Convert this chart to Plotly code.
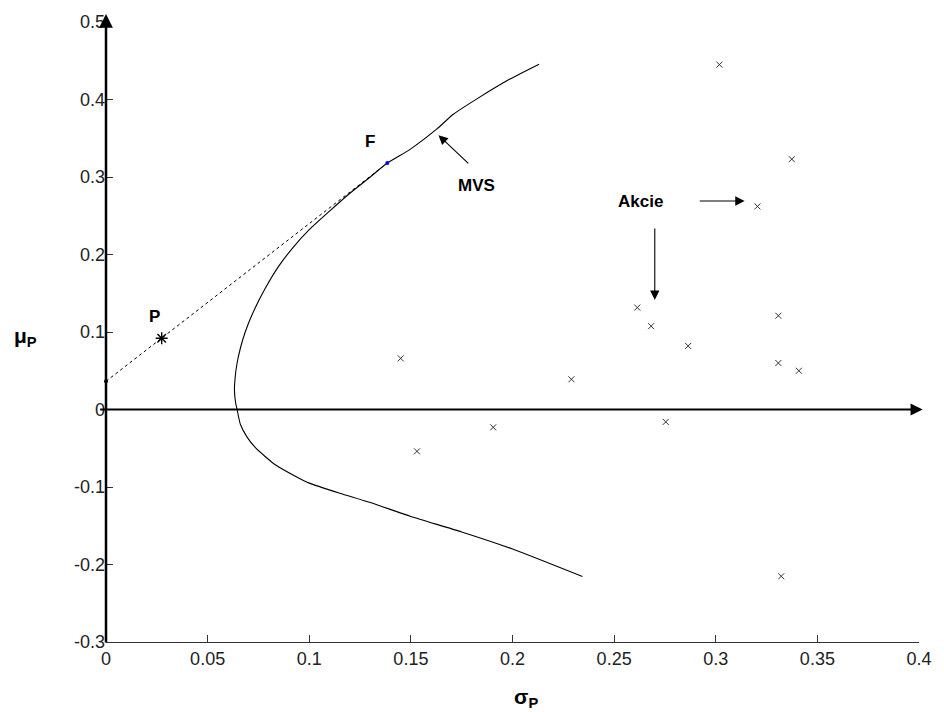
import plotly.graph_objects as go

# Minimum-variance set (MVS) curve
mvs_sigma = [0.2131, 0.1985, 0.1823, 0.1709, 0.1628, 0.1498, 0.1384, 0.130, 0.120, 0.110, 0.100,
             0.092, 0.085, 0.0783, 0.0718, 0.0685, 0.0662, 0.0645, 0.0635, 0.0632, 0.0637,
             0.0645, 0.0661, 0.0695, 0.0734, 0.0831, 0.0945, 0.100, 0.115, 0.130, 0.150,
             0.175, 0.200, 0.2344]
mvs_mu = [0.4455, 0.426, 0.4005, 0.381, 0.362, 0.336, 0.318, 0.300, 0.279, 0.256, 0.232,
          0.209, 0.185, 0.156, 0.122, 0.100, 0.080, 0.060, 0.040, 0.025, 0.010,
          0.000, -0.019, -0.036, -0.049, -0.071, -0.088, -0.095, -0.108, -0.120, -0.138,
          -0.158, -0.180, -0.2155]

# Stocks (Akcie)
stock_sigma = [0.3018, 0.3374, 0.3205, 0.2614, 0.2682, 0.2864, 0.3308, 0.3308, 0.3409, 0.2754,
               0.145, 0.153, 0.1905, 0.229, 0.3322]
stock_mu = [0.445, 0.323, 0.262, 0.1315, 0.1075, 0.082, 0.121, 0.060, 0.050, -0.016,
            0.066, -0.054, -0.023, 0.039, -0.2152]

# Capital market line: risk-free point, portfolio P, tangency F
cml_sigma = [0.0, 0.0274, 0.1384]
cml_mu = [0.0364, 0.092, 0.318]
p_point = (0.0274, 0.092)
f_point = (0.1384, 0.318)
rf_point = (0.0, 0.0364)

x_ticks = [0, 0.05, 0.1, 0.15, 0.2, 0.25, 0.3, 0.35, 0.4]
x_ticktext = ["0", "0.05", "0.1", "0.15", "0.2", "0.25", "0.3", "0.35", "0.4"]
y_ticks = [-0.3, -0.2, -0.1, 0, 0.1, 0.2, 0.3, 0.4, 0.5]
y_ticktext = ["-0.3", "-0.2", "-0.1", "0", "0.1", "0.2", "0.3", "0.4", "0.5"]

FONT = "Liberation Sans, Arial, sans-serif"

fig = go.Figure()
fig.add_trace(go.Scatter(x=cml_sigma, y=cml_mu, mode="lines",
                         line=dict(color="black", width=1, dash="3px,3px"), hoverinfo="skip"))
fig.add_trace(go.Scatter(x=mvs_sigma, y=mvs_mu, mode="lines", line_shape="spline",
                         line=dict(color="black", width=1.1, smoothing=0.6), hoverinfo="skip"))
fig.add_trace(go.Scatter(x=stock_sigma, y=stock_mu, mode="markers",
                         marker=dict(symbol="x-thin-open", size=6, color="#333",
                                     line=dict(width=1, color="#333"))))
fig.add_trace(go.Scatter(x=[p_point[0]], y=[p_point[1]], mode="markers",
                         marker=dict(symbol="asterisk-open", size=10, color="black",
                                     line=dict(width=1.4, color="black"))))
fig.add_trace(go.Scatter(x=[f_point[0]], y=[f_point[1]], mode="markers",
                         marker=dict(symbol="circle", size=4, color="blue")))
fig.add_trace(go.Scatter(x=[rf_point[0]], y=[rf_point[1]], mode="markers",
                         marker=dict(symbol="circle", size=4, color="black"), cliponaxis=False))

ann = []
# vertical axis at sigma=0 with arrow
ann.append(dict(x=0, y=1.013, xref="x", yref="paper", ax=0, ay=630, axref="pixel", ayref="pixel",
                showarrow=True, arrowhead=2, arrowsize=1.1, arrowwidth=2.5, arrowcolor="black", text=""))
# horizontal line at mu=0 with arrow
ann.append(dict(x=1.0045, y=0, xref="paper", yref="y", ax=-824, ay=0,
                showarrow=True, arrowhead=2, arrowsize=1.1, arrowwidth=2.2, arrowcolor="black", text=""))
# text labels
bold = dict(family=FONT, size=17, color="black")
ann.append(dict(x=0.0239, y=0.12, xref="x", yref="y", text="<b>P</b>", showarrow=False, font=bold))
ann.append(dict(x=0.130, y=0.346, xref="x", yref="y", text="<b>F</b>", showarrow=False, font=bold))
ann.append(dict(x=0.1823, y=0.289, xref="x", yref="y", text="<b>MVS</b>", showarrow=False, font=bold))
ann.append(dict(x=0.2632, y=0.2686, xref="x", yref="y", text="<b>Akcie</b>", showarrow=False, font=bold))
# pointer arrows
ann.append(dict(x=0.1636, y=0.354, ax=0.179, ay=0.3157, xref="x", yref="y", axref="x", ayref="y",
                showarrow=True, arrowhead=2, arrowsize=1.7, arrowwidth=1.1, arrowcolor="black", text=""))
ann.append(dict(x=0.3142, y=0.269, ax=0.2914, ay=0.269, xref="x", yref="y", axref="x", ayref="y",
                showarrow=True, arrowhead=2, arrowsize=1.7, arrowwidth=1.1, arrowcolor="black", text=""))
ann.append(dict(x=0.27, y=0.1414, ax=0.27, ay=0.2356, xref="x", yref="y", axref="x", ayref="y",
                showarrow=True, arrowhead=2, arrowsize=1.7, arrowwidth=1.1, arrowcolor="black", text=""))
# axis titles
ann.append(dict(x=-0.0987, y=0.093, xref="paper", yref="y", xanchor="center", yanchor="middle",
                text="<b>μ<sub>P</sub></b>", showarrow=False,
                font=dict(family=FONT, size=21, color="black")))
ann.append(dict(x=0.2065, y=-0.090, xref="x", yref="paper", xanchor="center", yanchor="middle",
                text="<b>σ<sub>P</sub></b>", showarrow=False,
                font=dict(family=FONT, size=21, color="black")))

fig.update_layout(
    width=944, height=712,
    margin=dict(l=106, r=17, t=20, b=70),
    paper_bgcolor="white", plot_bgcolor="white",
    showlegend=False,
    font=dict(family=FONT, size=18, color="#222"),
    annotations=ann,
    xaxis=dict(range=[0, 0.4], tickvals=x_ticks, ticktext=x_ticktext, ticks="inside", ticklen=7,
               tickcolor="#333", tickwidth=1, showline=True, linecolor="#333", linewidth=1.3,
               showgrid=False, zeroline=False, fixedrange=True),
    yaxis=dict(range=[-0.3, 0.5], tickvals=y_ticks, ticktext=y_ticktext, ticks="inside", ticklen=7,
               tickcolor="#333", tickwidth=1, showline=False, showgrid=False, zeroline=False,
               fixedrange=True),
)

fig.write_html("out.html")
